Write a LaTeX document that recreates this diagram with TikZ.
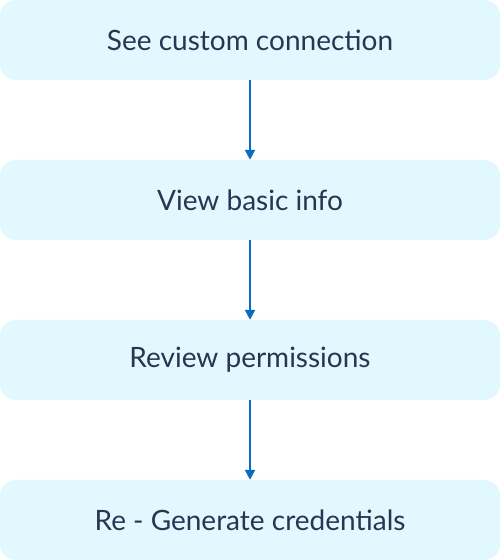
\documentclass[tikz,border=0pt]{standalone}
\usepackage{fontspec}
\setmainfont{Lato}
\usepackage{tikz}
\usetikzlibrary{shapes,calc,arrows.meta,positioning}
\definecolor{boxfill}{HTML}{E0F8FE}
\definecolor{boxtext}{HTML}{2B3452}
\definecolor{arrowblue}{HTML}{0A6CC2}

\begin{document}
\begin{tikzpicture}[x=1pt, y=1pt,
    stepbox/.style={fill=boxfill, rounded corners=16pt, minimum width=500pt, minimum height=80pt, inner sep=0pt, text=boxtext, font=\fontsize{28}{32}\selectfont},
    flow/.style={draw=arrowblue, line width=2pt, -{Triangle[width=10pt,length=10pt]}}]
    \useasboundingbox (0,0) rectangle (500,560);
    \node[stepbox] (see) at (250,520) {See custom connection};
    \node[stepbox] (view) at (250,360) {View basic info};
    \node[stepbox] (review) at (250,200) {Review permissions};
    \node[stepbox] (regen) at (250,40) {Re - Generate credentials};
    \draw[flow] (see) -- (view);
    \draw[flow] (view) -- (review);
    \draw[flow] (review) -- (regen);
\end{tikzpicture}
\end{document}
